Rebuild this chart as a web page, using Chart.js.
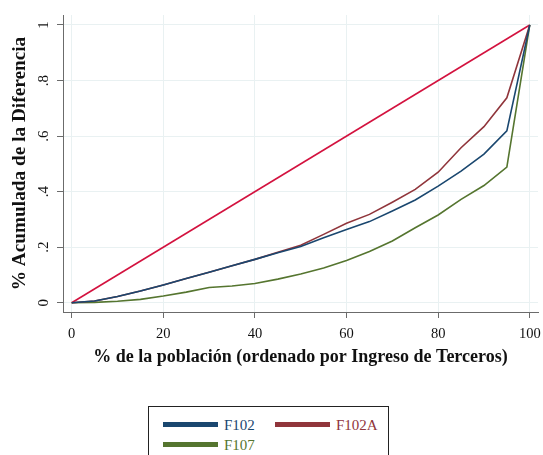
<!DOCTYPE html>
<html lang="es">
<head>
<meta charset="utf-8">
<title>Curvas de concentración</title>
<script src="https://cdn.jsdelivr.net/npm/chart.js@4.4.1/dist/chart.umd.min.js"></script>
<style>
  html, body { margin: 0; padding: 0; background: #ffffff; }
  #wrap { position: relative; width: 543px; height: 455px; overflow: hidden; }
  #chart { position: absolute; left: 0; top: 0; }
  #legend {
    position: absolute; left: 148px; top: 406px; width: 241px; height: 70px;
    border: 1px solid #222; background: #fff; box-sizing: border-box;
    font-family: "Liberation Serif", "Times New Roman", serif; font-size: 15px;
  }
  .item { position: absolute; height: 18px; }
  .swatch { position: absolute; left: 0; top: 6px; width: 55px; height: 5px; }
  .label { position: absolute; left: 61px; top: 0; line-height: 18px; white-space: nowrap; }
</style>
</head>
<body>
<div id="wrap">
  <canvas id="chart" width="543" height="455"></canvas>
  <div id="legend"></div>
</div>
<script>
// Percentiles of the population (ordered by third-party income)
const poblacion = [0, 5, 10, 15, 20, 25, 30, 35, 40, 45, 50, 55, 60, 65, 70, 75, 80, 85, 90, 95, 100];

// Cumulative share of the difference, by form
const f102  = [0, 0.006, 0.022, 0.042, 0.064, 0.087, 0.110, 0.133, 0.156, 0.180, 0.202, 0.234, 0.264, 0.292, 0.330, 0.370, 0.420, 0.474, 0.535, 0.619, 1];
const f102a = [0, 0.006, 0.022, 0.042, 0.064, 0.087, 0.110, 0.133, 0.156, 0.182, 0.207, 0.246, 0.286, 0.318, 0.362, 0.408, 0.470, 0.558, 0.634, 0.738, 1];
const f107  = [0, 0.001, 0.005, 0.012, 0.024, 0.038, 0.055, 0.060, 0.069, 0.085, 0.103, 0.125, 0.152, 0.184, 0.222, 0.270, 0.316, 0.372, 0.422, 0.488, 1];

// 45-degree equality line
const igualdadX = [0, 100];
const igualdadY = [0, 1];

// Axis ticks
const xTicks = [0, 20, 40, 60, 80, 100];
const yTicks = [0, 0.2, 0.4, 0.6, 0.8, 1];
const yTickLabels = ['0', '.2', '.4', '.6', '.8', '1'];

const serif = '"Liberation Serif", "Times New Roman", serif';
const axisGray = '#6b6b6b';
const gridColor = '#e9f1f2';

const pts = (xs, ys) => xs.map((x, i) => ({ x: x, y: ys[i] }));

const series = [
  { label: 'F102',  values: f102,  color: '#1a476f' },
  { label: 'F102A', values: f102a, color: '#90353b' },
  { label: 'F107',  values: f107,  color: '#55752f' }
];

const datasets = series.map(s => ({
  label: s.label,
  data: pts(poblacion, s.values),
  borderColor: s.color,
  backgroundColor: s.color,
  borderWidth: 1.6,
  pointRadius: 0,
  tension: 0,
  fill: false
}));
datasets.push({
  label: 'igualdad',
  data: pts(igualdadX, igualdadY),
  borderColor: '#d3123f',
  borderWidth: 1.6,
  pointRadius: 0,
  tension: 0,
  fill: false
});

new Chart(document.getElementById('chart'), {
  type: 'line',
  data: { datasets: datasets },
  options: {
    responsive: false,
    animation: false,
    layout: { autoPadding: false, padding: { left: 0, top: 15, right: 5, bottom: 87 } },
    plugins: { legend: { display: false }, tooltip: { enabled: false } },
    scales: {
      x: {
        type: 'linear',
        min: -1.9,
        max: 101.8,
        afterBuildTicks: s => { s.ticks = xTicks.map(v => ({ value: v })); },
        afterFit: s => { s.height = 56; s.paddingLeft = 0; s.paddingRight = 0; },
        grid: { color: gridColor, lineWidth: 1, tickColor: axisGray, tickLength: 6 },
        border: { color: axisGray, width: 1 },
        ticks: {
          color: '#111', padding: 7, maxRotation: 0,
          font: { family: serif, size: 14.5 },
          callback: v => String(v)
        },
        title: {
          display: true,
          text: '% de la población (ordenado por Ingreso de Terceros)',
          color: '#111',
          font: { family: serif, size: 18, weight: 'bold' },
          padding: { top: 0, bottom: 0 }
        }
      },
      y: {
        type: 'linear',
        min: -0.0335,
        max: 1.036,
        afterBuildTicks: s => { s.ticks = yTicks.map(v => ({ value: v })); },
        afterFit: s => { s.width = 63; s.paddingTop = 0; s.paddingBottom = 0; },
        grid: { color: gridColor, lineWidth: 1, tickColor: axisGray, tickLength: 6 },
        border: { color: axisGray, width: 1 },
        ticks: {
          color: '#111', padding: 7,
          minRotation: 90, maxRotation: 90,
          crossAlign: 'center',
          font: { family: serif, size: 15 },
          callback: v => yTickLabels[yTicks.indexOf(v)]
        },
        title: {
          display: true,
          text: '% Acumulada de la Diferencia',
          color: '#111',
          font: { family: serif, size: 19.3, weight: 'bold' },
          padding: { top: 8, bottom: 0 }
        }
      }
    }
  }
});

// Legend box below the plot, two entries per row
const legend = document.getElementById('legend');
const slots = [{ left: 14, top: 9 }, { left: 126, top: 9 }, { left: 14, top: 29 }];
series.forEach((s, i) => {
  const item = document.createElement('div');
  item.className = 'item';
  item.style.left = slots[i].left + 'px';
  item.style.top = slots[i].top + 'px';
  const sw = document.createElement('div');
  sw.className = 'swatch';
  sw.style.background = s.color;
  const tx = document.createElement('div');
  tx.className = 'label';
  tx.style.color = s.color;
  tx.textContent = s.label;
  item.appendChild(sw);
  item.appendChild(tx);
  legend.appendChild(item);
});
</script>
</body>
</html>
